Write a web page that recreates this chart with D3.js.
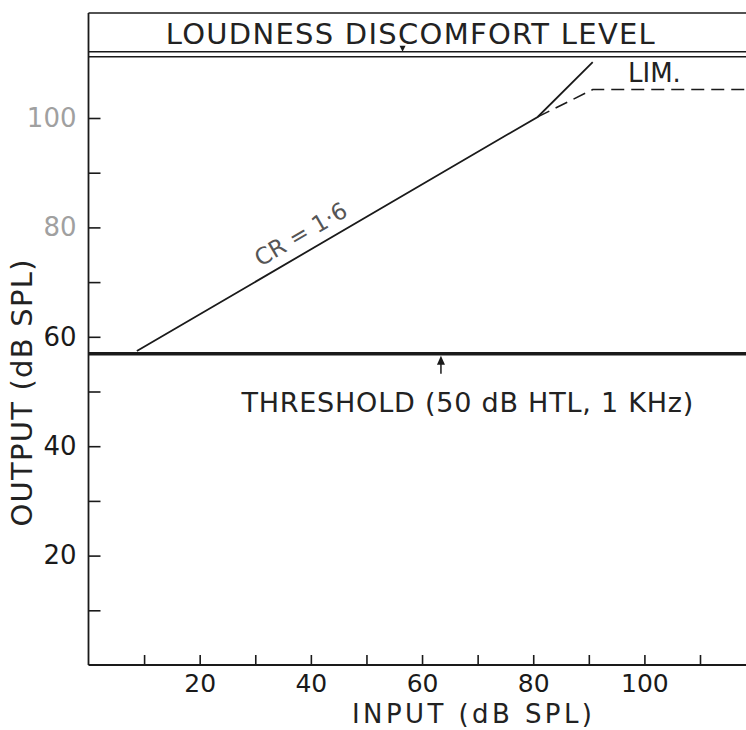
<!DOCTYPE html>
<html>
<head>
<meta charset="utf-8">
<script src="https://cdn.jsdelivr.net/npm/d3@7"></script>
<style>
  body { margin: 0; background: #fff; }
  text { font-family: 'DejaVu Sans', sans-serif; }
</style>
</head>
<body>
<div id="chart"></div>
<script>
// values (dB SPL)
const xTickValues = [10, 20, 30, 40, 50, 60, 70, 80, 90, 100, 110]
const xTickLabels = [20, 40, 60, 80, 100]
const yTickValues = [10, 20, 30, 40, 50, 60, 70, 80, 90, 100]
const yTickLabels = [20, 40, 60, 80, 100]
const fadedLabels = [80, 100]

// compression curve, CR = 1.6 up to the knee, then the steep part to LDL
const crInput = [8.7, 80.8, 90.7]
const crOutput = [57.4, 100.2, 110.2]

// limiting curve (dashed)
const limInput = [80.8, 90.7, 118.5]
const limOutput = [100.2, 105.2, 105.2]

const ldlLevels = [111.2, 112.1]
const ldlBoxTop = 119.2
const thresholdLevel = 56.9
const thresholdArrowAt = 63.4
const ldlMarkAt = 56.5

const ldlText = 'LOUDNESS DISCOMFORT LEVEL'
const thresholdText = 'THRESHOLD (50 dB HTL, 1 KHz)'
const crText = 'CR = 1·6'
const limText = 'LIM.'
const xTitle = 'INPUT (dB SPL)'
const yTitle = 'OUTPUT (dB SPL)'

function drawChart() {
  let w = 746, h = 730

  let svg = d3.select('#chart')
    .append('svg')
    .attr('width', w)
    .attr('height', h)

  let x = d3.scaleLinear()
    .domain([0, 110])
    .range([88.5, 700])

  let y = d3.scaleLinear()
    .domain([0, 100])
    .range([665, 118])

  let ink = '#1a1a1a'

  // x axis, ticks pointing up into the plot
  let xAxis = d3.axisBottom(x)
    .tickValues(xTickValues)
    .tickSize(-10)
    .tickPadding(9)
    .tickFormat(d => xTickLabels.includes(d) ? d : '')

  let gx = svg.append('g')
    .attr('transform', `translate(0,${y(0)})`)
    .call(xAxis)
  gx.select('.domain').remove()
  gx.selectAll('line').attr('stroke', ink).attr('stroke-width', 1.6)
  gx.selectAll('text')
    .style('font-size', '25px')
    .style('fill', ink)

  // y axis, ticks pointing right
  let yAxis = d3.axisLeft(y)
    .tickValues(yTickValues)
    .tickSize(-12)
    .tickPadding(12)
    .tickFormat(d => yTickLabels.includes(d) ? d : '')

  let gy = svg.append('g')
    .attr('transform', `translate(${x(0)},0)`)
    .call(yAxis)
  gy.select('.domain').remove()
  gy.selectAll('line').attr('stroke', ink).attr('stroke-width', 1.6)
  gy.selectAll('text')
    .style('font-size', '26px')
    .style('fill', d => fadedLabels.includes(d) ? '#a0a0a0' : ink)

  // axis lines
  svg.append('line')
    .attr('x1', x(0)).attr('x2', w)
    .attr('y1', y(0)).attr('y2', y(0))
    .attr('stroke', ink).attr('stroke-width', 2)

  svg.append('line')
    .attr('x1', x(0)).attr('x2', x(0))
    .attr('y1', y(0)).attr('y2', y(ldlBoxTop))
    .attr('stroke', ink).attr('stroke-width', 1.8)

  // LDL box
  svg.append('line')
    .attr('x1', x(0)).attr('x2', w)
    .attr('y1', y(ldlBoxTop)).attr('y2', y(ldlBoxTop))
    .attr('stroke', ink).attr('stroke-width', 1.6)

  svg.selectAll('.ldl')
    .data(ldlLevels)
    .enter()
    .append('line')
    .attr('class', 'ldl')
    .attr('x1', x(0)).attr('x2', w)
    .attr('y1', d => y(d)).attr('y2', d => y(d))
    .attr('stroke', ink)
    .attr('stroke-width', 1.5)

  svg.append('text')
    .attr('x', x(13.9))
    .attr('y', y(113.5))
    .attr('textLength', 489)
    .attr('lengthAdjust', 'spacing')
    .style('font-size', '29px')
    .style('fill', '#222')
    .text(ldlText)

  // little mark sitting on the LDL line
  let mx = x(ldlMarkAt), my = y(d3.max(ldlLevels))
  svg.append('path')
    .attr('d', `M${mx - 3},${my - 6}L${mx + 3},${my - 6}L${mx},${my}Z`)
    .attr('fill', ink)

  // threshold line
  svg.append('line')
    .attr('x1', x(0)).attr('x2', w)
    .attr('y1', y(thresholdLevel)).attr('y2', y(thresholdLevel))
    .attr('stroke', ink)
    .attr('stroke-width', 3.5)

  let ax = x(thresholdArrowAt), ay = y(thresholdLevel) + 2
  svg.append('path')
    .attr('d', `M${ax - 4},${ay + 9}L${ax + 4},${ay + 9}L${ax},${ay}Z`)
    .attr('fill', ink)
  svg.append('line')
    .attr('x1', ax).attr('x2', ax)
    .attr('y1', ay + 8).attr('y2', ay + 18)
    .attr('stroke', ink).attr('stroke-width', 1.5)

  svg.append('text')
    .attr('x', x(27.5))
    .attr('y', y(46.3))
    .attr('textLength', 452)
    .attr('lengthAdjust', 'spacing')
    .style('font-size', '27px')
    .style('fill', '#222')
    .text(thresholdText)

  // curves
  let crData = crInput.map((d, i) => ({input: d, output: crOutput[i]}))
  let limData = limInput.map((d, i) => ({input: d, output: limOutput[i]}))

  let line = d3.line()
    .x(d => x(d.input))
    .y(d => y(d.output))

  svg.append('path')
    .datum(crData)
    .attr('d', line)
    .attr('fill', 'none')
    .attr('stroke', ink)
    .attr('stroke-width', 1.8)

  svg.append('path')
    .datum(limData)
    .attr('d', line)
    .attr('fill', 'none')
    .attr('stroke', ink)
    .attr('stroke-width', 1.6)
    .attr('stroke-dasharray', '13,7')

  svg.append('text')
    .attr('x', x(101.8))
    .attr('y', y(106.6))
    .attr('text-anchor', 'middle')
    .style('font-size', '26px')
    .style('fill', '#222')
    .text(limText)

  // CR label rotated along the first segment, sitting just above it
  let angle = Math.atan2(y(crOutput[1]) - y(crOutput[0]), x(crInput[1]) - x(crInput[0])) * 180 / Math.PI
  let cx = x(38.9), cy = y(77.5)
  svg.append('text')
    .attr('transform', `translate(${cx},${cy}) rotate(${angle})`)
    .attr('text-anchor', 'middle')
    .style('fill', '#555')
    .style('font-size', '23px')
    .text(crText)

  // axis titles
  svg.append('text')
    .attr('x', 472)
    .attr('y', 723)
    .attr('text-anchor', 'middle')
    .attr('textLength', 240)
    .attr('lengthAdjust', 'spacing')
    .style('font-size', '26px')
    .style('fill', '#222')
    .text(xTitle)

  svg.append('text')
    .attr('transform', 'translate(32,393) rotate(-90)')
    .attr('text-anchor', 'middle')
    .attr('textLength', 267)
    .attr('lengthAdjust', 'spacing')
    .style('font-size', '29px')
    .style('fill', '#222')
    .text(yTitle)
}

drawChart()
</script>
</body>
</html>
